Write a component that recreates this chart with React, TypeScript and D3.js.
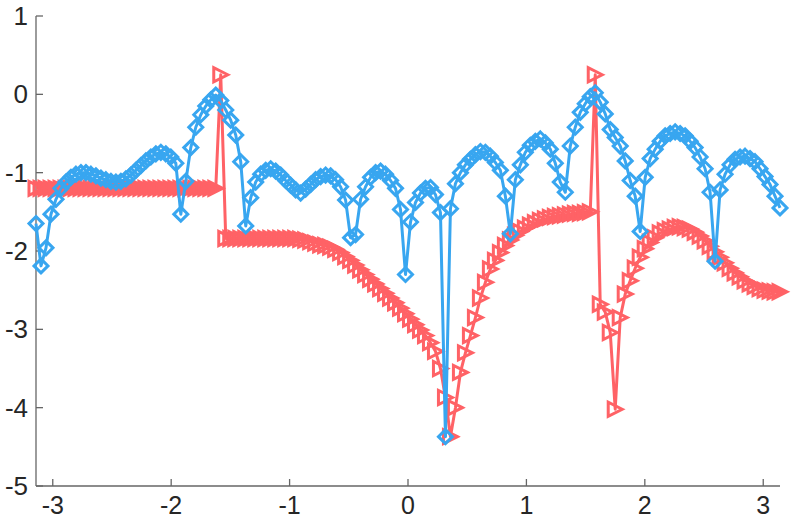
import React from "react";
import * as d3 from "d3";

const width = 793;
const height = 520;
const margin = { top: 16, right: 13, bottom: 34, left: 36 };

// sample grid: 150 points from -pi to pi
const N = 150;
const xValues = d3.range(N).map((i) => -Math.PI + (2 * Math.PI * i) / (N - 1));

// red series (right triangles)
const redValues = [
  -1.2, -1.2, -1.2, -1.2, -1.2, -1.2, -1.2, -1.2, -1.2, -1.2,
  -1.2, -1.2, -1.2, -1.2, -1.2, -1.2, -1.2, -1.2, -1.2, -1.2,
  -1.2, -1.2, -1.2, -1.2, -1.2, -1.2, -1.2, -1.2, -1.2, -1.2,
  -1.2, -1.2, -1.2, -1.2, -1.2, -1.2, -1.2, 0.25, -1.84, -1.84,
  -1.84, -1.84, -1.84, -1.84, -1.84, -1.84, -1.84, -1.84, -1.84, -1.84,
  -1.84, -1.84, -1.84, -1.85, -1.86, -1.88, -1.9, -1.92, -1.93, -1.95,
  -1.98, -2.02, -2.07, -2.12, -2.18, -2.24, -2.3, -2.36, -2.42, -2.48,
  -2.54, -2.6, -2.66, -2.73, -2.8, -2.87, -2.94, -3.01, -3.08, -3.17,
  -3.28, -3.5, -3.87, -4.37, -4.0, -3.55, -3.3, -3.08, -2.85, -2.6,
  -2.4, -2.23, -2.12, -2.02, -1.93, -1.86, -1.8, -1.75, -1.71, -1.67,
  -1.64, -1.61, -1.59, -1.57, -1.56, -1.55, -1.54, -1.53, -1.52, -1.52,
  -1.51, -1.5, 0.25, -2.68, -2.78, -3.04, -4.02, -2.85, -2.55, -2.38,
  -2.22, -2.08, -1.97, -1.89, -1.83, -1.77, -1.74, -1.72, -1.7, -1.69,
  -1.7, -1.72, -1.76, -1.81, -1.87, -1.94, -2.01, -2.08, -2.15, -2.22,
  -2.28, -2.33, -2.38, -2.42, -2.45, -2.48, -2.5, -2.51, -2.52, -2.52,
];

// blue series (diamonds)
const blueValues = [
  -1.65, -2.19, -1.96, -1.53, -1.34, -1.2, -1.12, -1.06, -1.02, -1.0,
  -1.0, -1.02, -1.04, -1.07, -1.09, -1.11, -1.12, -1.11, -1.08, -1.03,
  -0.97, -0.91, -0.85, -0.8, -0.76, -0.74, -0.76, -0.8, -0.88, -1.53,
  -1.11, -0.68, -0.42, -0.26, -0.15, -0.07, -0.01, -0.08, -0.2, -0.33,
  -0.52, -0.86, -1.68, -1.32, -1.12, -1.02, -0.97, -0.95, -0.98, -1.03,
  -1.1, -1.16, -1.22, -1.26, -1.21, -1.15, -1.09, -1.05, -1.03, -1.04,
  -1.09, -1.18, -1.35, -1.83, -1.79, -1.34, -1.18, -1.06, -1.0, -0.98,
  -1.02, -1.1, -1.2, -1.47, -2.3, -1.63, -1.38, -1.26, -1.2, -1.19,
  -1.28, -1.51, -4.37, -1.46, -1.14, -1.0, -0.9, -0.83, -0.77, -0.73,
  -0.74, -0.79, -0.87, -0.97, -1.3, -1.78, -1.09, -0.9, -0.74, -0.65,
  -0.6, -0.57, -0.62, -0.7, -0.88, -1.12, -1.25, -0.66, -0.42, -0.23,
  -0.12, -0.03, 0.02, -0.1, -0.25, -0.45, -0.55, -0.66, -0.85, -1.1,
  -1.3, -1.75, -1.06, -0.82, -0.7, -0.6, -0.53, -0.5, -0.48, -0.5,
  -0.53, -0.6, -0.68, -0.8, -0.95, -1.25, -2.13, -1.22, -1.02, -0.9,
  -0.83, -0.8, -0.79, -0.82, -0.86, -0.95, -1.05, -1.15, -1.3, -1.45,
];

const xTicks = [-3, -2, -1, 0, 1, 2, 3];
const yTicks = [-5, -4, -3, -2, -1, 0, 1];

const RED = "#ff6266";
const BLUE = "#38a6f0";
const AXIS = "#666666";
const TEXT = "#262626";

const xScale = d3
  .scaleLinear()
  .domain([-Math.PI, Math.PI])
  .range([margin.left, width - margin.right]);

const yScale = d3
  .scaleLinear()
  .domain([-5, 1])
  .range([height - margin.bottom, margin.top]);

const r = 7; // marker half size

const App = () => {
  const redPts = xValues.map((x, i) => [xScale(x), yScale(redValues[i])]);
  const bluePts = xValues.map((x, i) => [xScale(x), yScale(blueValues[i])]);
  const line = d3.line();

  const tri = ([x, y]) => `M${x + r},${y}L${x - r},${y - r}L${x - r},${y + r}Z`;
  const diamond = ([x, y]) => `M${x},${y - r}L${x + r},${y}L${x},${y + r}L${x - r},${y}Z`;

  const x0 = xScale.range()[0];
  const y0 = yScale.range()[0];

  return (
    <svg
      width={width}
      height={height}
      style={{ position: "absolute", left: 0, top: 0, fontFamily: "Liberation Sans, Arial, sans-serif" }}
    >
      {/* axes */}
      <line x1={x0} x2={x0} y1={yScale(1)} y2={y0} stroke={AXIS} strokeWidth={1.3} />
      <line x1={x0} x2={xScale(Math.PI)} y1={y0} y2={y0} stroke={AXIS} strokeWidth={1.3} />
      {xTicks.map((t) => (
        <g key={`x${t}`}>
          <line x1={xScale(t)} x2={xScale(t)} y1={y0} y2={y0 - 7} stroke={AXIS} strokeWidth={1.3} />
          <text x={xScale(t)} y={y0 + 28} textAnchor="middle" fontSize={25} fill={TEXT}>
            {t}
          </text>
        </g>
      ))}
      {yTicks.map((t) => (
        <g key={`y${t}`}>
          <line x1={x0} x2={x0 + 7} y1={yScale(t)} y2={yScale(t)} stroke={AXIS} strokeWidth={1.3} />
          <text x={x0 - 8} y={yScale(t) + 9} textAnchor="end" fontSize={26} fill={TEXT}>
            {t}
          </text>
        </g>
      ))}

      {/* red series */}
      <path d={line(redPts)} fill="none" stroke={RED} strokeWidth={3} strokeLinejoin="round" />
      {redPts.map((p, i) => (
        <path key={`r${i}`} d={tri(p)} fill="none" stroke={RED} strokeWidth={3} />
      ))}

      {/* blue series */}
      <path d={line(bluePts)} fill="none" stroke={BLUE} strokeWidth={3} strokeLinejoin="round" />
      {bluePts.map((p, i) => (
        <path key={`b${i}`} d={diamond(p)} fill="none" stroke={BLUE} strokeWidth={3} />
      ))}
    </svg>
  );
};

export default App;
